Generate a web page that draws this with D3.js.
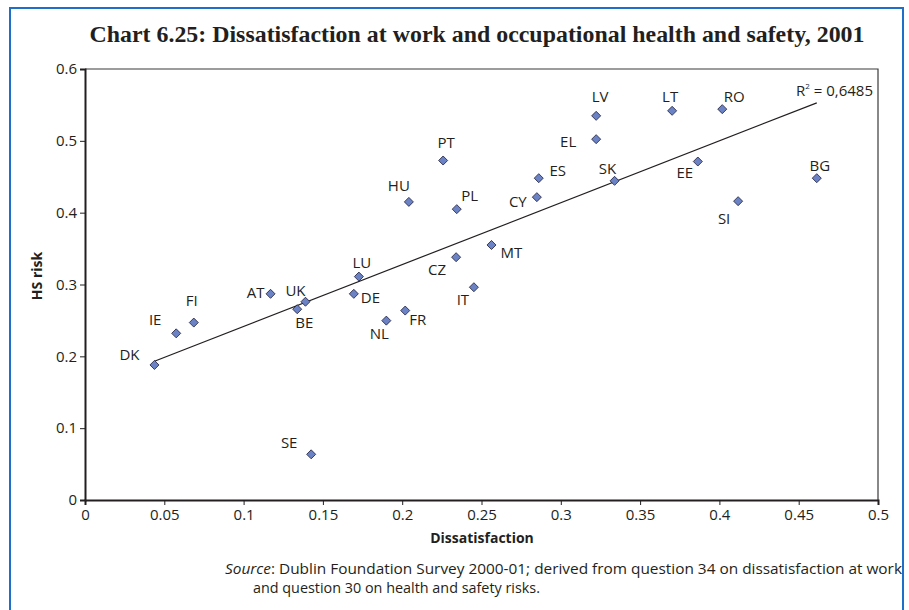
<!DOCTYPE html>
<html>
<head>
<meta charset="utf-8">
<script src="https://cdn.jsdelivr.net/npm/d3@7/dist/d3.min.js"></script>
<style>
  html, body { margin: 0; padding: 0; background: #fff; }
  svg { display: block; }
</style>
</head>
<body>
<svg id="chart" width="909" height="610"></svg>
<script>
// Country codes and their (dissatisfaction, HS risk) values, 2001
const countries = ["DK","IE","FI","AT","UK","BE","LU","DE","NL","FR","CZ","IT","MT","SE",
                   "HU","PT","PL","CY","ES","SK","EL","LV","LT","RO","EE","SI","BG"];
const dissatisfaction = [0.0438,0.0575,0.0686,0.117,0.139,0.1338,0.1727,0.1695,0.190,0.2019,
                         0.234,0.2452,0.2563,0.1426,0.2042,0.2258,0.2344,0.2849,0.2861,0.3339,
                         0.3223,0.3223,0.3702,0.4018,0.3864,0.4118,0.4614];
const hsRisk = [0.188,0.232,0.247,0.287,0.276,0.2656,0.311,0.287,0.2497,0.2637,
                0.338,0.2962,0.355,0.0636,0.415,0.4726,0.4049,0.4216,0.448,0.4443,
                0.5023,0.5348,0.5418,0.5441,0.4712,0.416,0.448];
const xTicks = [0,0.05,0.1,0.15,0.2,0.25,0.3,0.35,0.4,0.45,0.5];
const yTicks = [0,0.1,0.2,0.3,0.4,0.5,0.6];
const rSquaredLabel = "0,6485";

// Where each country label sits relative to its marker
const labelPlacement = {
  DK:[-25,-10,"middle"], IE:[-21,-14,"middle"], FI:[-2,-22,"middle"], AT:[-6,-1,"end"],
  UK:[-10,-11,"middle"], BE:[7,13,"middle"], LU:[3,-14,"middle"], DE:[7,4,"start"],
  NL:[-7,13,"middle"], FR:[4,9,"start"], CZ:[-19,12,"middle"], IT:[-11,12,"middle"],
  MT:[9,8,"start"], SE:[-22,-12,"middle"], HU:[-10,-16,"middle"], PT:[3,-18,"middle"],
  PL:[13,-14,"middle"], CY:[-19,4,"middle"], ES:[19,-8,"middle"], SK:[-7,-12,"middle"],
  EL:[-28,2,"middle"], LV:[4,-19,"middle"], LT:[-2,-14,"middle"], RO:[12,-13,"middle"],
  EE:[-13,11,"middle"], SI:[-14,17,"middle"], BG:[3,-13,"middle"]
};

const data = countries.map((c, i) => ({ code: c, x: dissatisfaction[i], y: hsRisk[i] }));

const svg = d3.select("#chart");
const ink = "#231f20";
const sans = "'Open Sans', 'Noto Sans', sans-serif";

// Outer frame
svg.append("rect")
  .attr("x", 10).attr("y", 8).attr("width", 893).attr("height", 640)
  .attr("fill", "none").attr("stroke", "#1f6fc9").attr("stroke-width", 2);

// Title
svg.append("text")
  .attr("x", 477).attr("y", 42)
  .attr("text-anchor", "middle")
  .attr("font-family", "'Liberation Serif', 'Times New Roman', serif")
  .attr("font-weight", "bold").attr("font-size", 23)
  .attr("fill", ink)
  .attr("textLength", 775).attr("lengthAdjust", "spacingAndGlyphs")
  .text("Chart 6.25: Dissatisfaction at work and occupational health and safety, 2001");

const x = d3.scaleLinear().domain([0, 0.5]).range([85, 878]);
const y = d3.scaleLinear().domain([0, 0.6]).range([500, 69]);

// Plot frame (top and right edges)
svg.append("path")
  .attr("d", `M${x(0)},${y(0.6)}H${x(0.5)}V${y(0)}`)
  .attr("fill", "none").attr("stroke", "#3a3a3a").attr("stroke-width", 1.2);

const fmt = d => d === 0 ? "0" : String(d);

// Axes
const xAxis = svg.append("g").attr("transform", `translate(0,${y(0)})`)
  .call(d3.axisBottom(x).tickValues(xTicks).tickFormat(fmt).tickSize(5).tickPadding(4));
const yAxis = svg.append("g").attr("transform", `translate(${x(0)},0)`)
  .call(d3.axisLeft(y).tickValues(yTicks).tickFormat(fmt).tickSize(5).tickPadding(3));

[xAxis, yAxis].forEach(g => {
  g.select(".domain").attr("stroke", ink).attr("stroke-width", 2);
  g.selectAll(".tick line").attr("stroke", ink).attr("stroke-width", 1);
  g.selectAll(".tick text").attr("fill", ink)
    .attr("font-family", sans).attr("font-size", 15);
});

// Axis titles
svg.append("text")
  .attr("x", 482).attr("y", 543)
  .attr("text-anchor", "middle")
  .attr("font-family", sans).attr("font-weight", "bold").attr("font-size", 14)
  .attr("fill", ink).text("Dissatisfaction");
svg.append("text")
  .attr("transform", "translate(42,276) rotate(-90)")
  .attr("text-anchor", "middle")
  .attr("font-family", sans).attr("font-weight", "bold").attr("font-size", 14)
  .attr("fill", ink).text("HS risk");

// Linear trend line (least squares) spanning the observed range
const mx = d3.mean(data, d => d.x), my = d3.mean(data, d => d.y);
const slope = d3.sum(data, d => (d.x - mx) * (d.y - my)) / d3.sum(data, d => (d.x - mx) ** 2);
const intercept = my - slope * mx;
const [x0, x1] = d3.extent(data, d => d.x);
svg.append("line")
  .attr("x1", x(x0)).attr("y1", y(intercept + slope * x0))
  .attr("x2", x(x1)).attr("y2", y(intercept + slope * x1))
  .attr("stroke", ink).attr("stroke-width", 1.2);

// R² annotation
const r2 = svg.append("text")
  .attr("x", 873).attr("y", 96)
  .attr("text-anchor", "end")
  .attr("font-family", sans).attr("font-size", 15)
  .attr("fill", ink);
r2.append("tspan").text("R");
r2.append("tspan").attr("font-size", 8).attr("dy", -7).text("2");
r2.append("tspan").attr("dy", 7).text(" = " + rSquaredLabel);

// Markers
const diamond = d3.symbol().type(d3.symbolDiamond2).size(52);
svg.append("g").selectAll("path")
  .data(data).join("path")
  .attr("d", diamond)
  .attr("transform", d => `translate(${x(d.x)},${y(d.y)})`)
  .attr("fill", "#6b82c4").attr("stroke", "#1c1c3a").attr("stroke-width", 0.8);

// Country labels
svg.append("g").selectAll("text")
  .data(data).join("text")
  .attr("x", d => x(d.x) + labelPlacement[d.code][0])
  .attr("y", d => y(d.y) + labelPlacement[d.code][1])
  .attr("dy", "0.36em")
  .attr("text-anchor", d => labelPlacement[d.code][2])
  .attr("font-family", sans).attr("font-size", 15)
  .attr("fill", ink)
  .text(d => d.code);

// Source note
const src = svg.append("text")
  .attr("x", 225).attr("y", 574)
  .attr("font-family", sans).attr("font-size", 14.5)
  .attr("fill", ink)
  .attr("textLength", 677).attr("lengthAdjust", "spacingAndGlyphs");
src.append("tspan").attr("font-style", "italic").text("Source");
src.append("tspan").text(": Dublin Foundation Survey 2000-01; derived from question 34 on dissatisfaction at work");
svg.append("text")
  .attr("x", 253).attr("y", 593)
  .attr("font-family", sans).attr("font-size", 14.5)
  .attr("fill", ink)
  .attr("textLength", 287).attr("lengthAdjust", "spacingAndGlyphs")
  .text("and question 30 on health and safety risks.");
</script>
</body>
</html>
